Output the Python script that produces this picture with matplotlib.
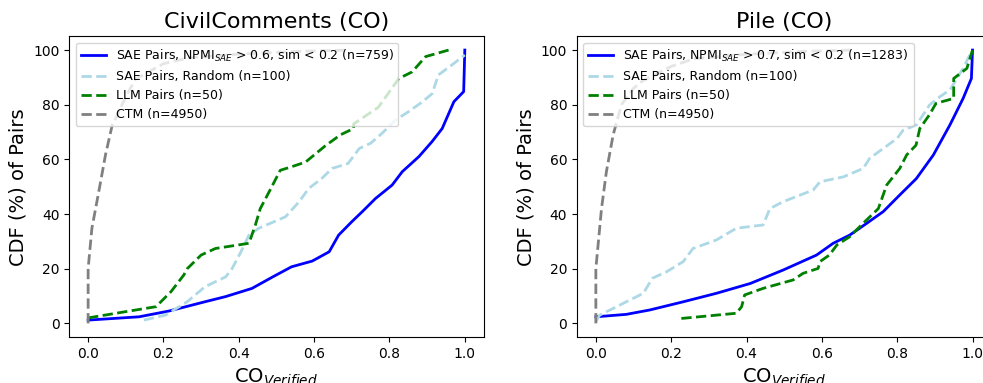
import matplotlib.pyplot as plt
import numpy as np

# Datos (CDF en %)
# --- CivilComments (CO) ---
cc_sae_x = [0, 0.135, 0.214, 0.31, 0.365, 0.435, 0.49, 0.54, 0.595, 0.64, 0.665, 0.70, 0.728, 0.763, 0.807,
            0.834, 0.878, 0.913, 0.94, 0.971, 0.997, 1.0]
cc_sae_y = [1.2, 2.4, 4.5, 7.9, 9.8, 12.8, 17, 20.7, 22.8, 26.2, 32.3, 37.2, 40.9, 45.7, 50.6,
            55.5, 61, 66.5, 71.3, 81.1, 84.8, 100]
cc_rand_x = [0.148, 0.205, 0.263, 0.31, 0.365, 0.382, 0.405, 0.427, 0.453, 0.524, 0.56, 0.586, 0.62, 0.648,
             0.69, 0.72, 0.75, 0.78, 0.816, 0.85, 0.887, 0.913, 0.93, 0.97, 1.0]
cc_rand_y = [1.2, 3, 7.9, 13.4, 17, 20, 26, 32.3, 34.8, 39, 44.5, 49.4, 53, 56.7,
             58.5, 64, 65.9, 69.5, 74.4, 77.4, 81, 84, 90.9, 95, 98.2]
cc_llm_x = [0, 0.1, 0.18, 0.22, 0.254, 0.263, 0.30, 0.338, 0.427, 0.444, 0.457, 0.48, 0.51, 0.54, 0.577,
            0.63, 0.67, 0.705, 0.705, 0.77, 0.825, 0.86, 0.896, 0.957]
cc_llm_y = [2, 4.3, 6.1, 11.6, 17.7, 20, 25, 27.4, 29.3, 36, 42, 48, 56, 57.3, 59,
            65, 69, 71.3, 73, 79, 89.6, 92, 97.6, 100]
cc_ctm_x = [0, 0, 0.01, 0.028, 0.046, 0.064, 0.077, 0.1, 0.126, 0.2, 0.268, 0.4, 0.55, 0.69]
cc_ctm_y = [0, 20, 34.8, 48, 61.6, 72.6, 76, 83, 89.4, 95, 97.2, 98.5, 99.5, 100]

# --- Pile (CO) ---
pile_sae_x = [0, 0.081, 0.143, 0.232, 0.32, 0.41, 0.497, 0.586, 0.63, 0.674, 0.719, 0.763, 0.807,
              0.851, 0.896, 0.94, 0.975, 0.997, 1.0]
pile_sae_y = [2.4, 3.3, 4.9, 7.9, 11, 14.6, 19.5, 25, 29.3, 32.3, 36.6, 40.9, 47,
              53, 61.6, 72.6, 82.3, 89.6, 100]
pile_rand_x = [0, 0.01, 0.081, 0.126, 0.15, 0.188, 0.232, 0.258, 0.32, 0.373, 0.444, 0.462, 0.497, 0.577,
               0.595, 0.657, 0.71, 0.727, 0.763, 0.8, 0.816, 0.851, 0.886, 0.913, 0.94, 0.975, 0.997]
pile_rand_y = [0.6, 3, 7.9, 11, 16.5, 18.9, 22.6, 27.4, 30.5, 34.8, 36, 42, 44.5, 48.8,
               51.8, 53.6, 56.7, 60.4, 64, 67.7, 70.7, 72.6, 79.9, 82.9, 85.4, 93.3, 99.4]
pile_llm_x = [0.227, 0.373, 0.387, 0.395, 0.444, 0.524, 0.55, 0.59, 0.595, 0.62, 0.64, 0.674, 0.705, 0.75,
              0.772, 0.807, 0.825, 0.85, 0.86, 0.885, 0.903, 0.95, 0.95, 0.985, 1.0]
pile_llm_y = [1.8, 3.7, 6.1, 10.4, 12.8, 15.9, 18.3, 20.1, 22.6, 25, 28.7, 31.7, 36, 42,
              50.6, 56.7, 61.6, 65.2, 71.3, 76.2, 80.5, 82.3, 89.6, 93.3, 100]
pile_ctm_x = [0, 0, 0.015, 0.028, 0.046, 0.068, 0.1, 0.123, 0.2, 0.26, 0.4, 0.55, 0.68]
pile_ctm_y = [0, 20, 42, 55.5, 69, 80, 86, 88.6, 94, 96.8, 98.5, 99.5, 100]

titles = ["CivilComments (CO)", "Pile (CO)"]
sae_labels = [r"SAE Pairs, NPMI$_{SAE}$ > 0.6, sim < 0.2 (n=759)",
              r"SAE Pairs, NPMI$_{SAE}$ > 0.7, sim < 0.2 (n=1283)"]

datos = [
    (cc_sae_x, cc_sae_y, cc_rand_x, cc_rand_y, cc_llm_x, cc_llm_y, cc_ctm_x, cc_ctm_y),
    (pile_sae_x, pile_sae_y, pile_rand_x, pile_rand_y, pile_llm_x, pile_llm_y, pile_ctm_x, pile_ctm_y),
]

fig = plt.figure(figsize=(9.83, 3.83), dpi=100)
ax1 = fig.add_axes([0.0705, 0.12, 0.4215, 0.785])
ax2 = fig.add_axes([0.587, 0.12, 0.4215, 0.785])

for ax, title, lab, d in zip([ax1, ax2], titles, sae_labels, datos):
    sx, sy, rx, ry, lx, ly, cx, cy = d
    ax.plot(sx, sy, color='blue', linewidth=2, label=lab)
    ax.plot(rx, ry, color='lightblue', linestyle='--', linewidth=2, label="SAE Pairs, Random (n=100)")
    ax.plot(lx, ly, color='green', linestyle='--', linewidth=2, label="LLM Pairs (n=50)")
    ax.plot(cx, cy, color='gray', linestyle='--', linewidth=2, label="CTM (n=4950)")
    ax.set_xlim(-0.05, 1.05)
    ax.set_ylim(-5, 105)
    ax.set_title(title, fontsize=16)
    ax.set_xlabel(r"CO$_{Verified}$", fontsize=14)
    ax.set_ylabel("CDF (%) of Pairs", fontsize=14)
    ax.legend(loc='upper left', fontsize=9)

plt.savefig("out.png", dpi=100)
